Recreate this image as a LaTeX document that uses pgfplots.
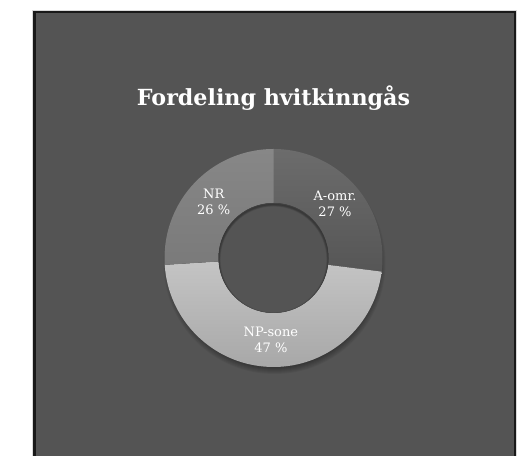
\documentclass[border=0pt]{standalone}
\usepackage{pgfplots}
\pgfplotsset{compat=1.18}
\usepackage{pgfplotstable}
\usepackage{fontspec}
\setmainfont{DejaVu Serif}

\definecolor{panel}{HTML}{545454}
\definecolor{aTop}{HTML}{6C6C6C}
\definecolor{aBot}{HTML}{565656}
\definecolor{bTop}{HTML}{C4C4C4}
\definecolor{bBot}{HTML}{A6A6A6}
\definecolor{cTop}{HTML}{878787}
\definecolor{cBot}{HTML}{7A7A7A}

% share of each slice, in per cent, clockwise from the top
\pgfplotstableread{
label   value
A-omr.  27
NP-sone 47
NR      26
}\shares

\pgfplotstablegetelem{0}{value}\of\shares \let\vA\pgfplotsretval
\pgfplotstablegetelem{1}{value}\of\shares \let\vB\pgfplotsretval
\pgfplotstablegetelem{2}{value}\of\shares \let\vC\pgfplotsretval
\pgfmathsetmacro\aA{90}
\pgfmathsetmacro\aB{\aA-3.6*\vA}
\pgfmathsetmacro\aC{\aB-3.6*\vB}
\pgfmathsetmacro\aD{\aC-3.6*\vC}
\pgfmathsetmacro\mA{(\aA+\aB)/2}
\pgfmathsetmacro\mB{(\aB+\aC)/2}
\pgfmathsetmacro\mC{(\aC+\aD)/2}

\def\Rout{109pt}
\def\Rin{55pt}

\begin{document}
\begin{tikzpicture}
\begin{axis}[
    x=1pt, y=1pt,
    xmin=0, xmax=525, ymin=0, ymax=456,
    scale only axis, hide axis, clip=false,
  ]
  % page and panel
  \fill[white] (axis cs:0,0) rectangle (axis cs:525,456);
  \fill[panel] (axis cs:34,0) rectangle (axis cs:515,444);
  \draw[black!90, line width=2.6pt] (axis cs:34.3,0) -- (axis cs:34.3,444) -- (axis cs:514.8,444) -- (axis cs:514.8,0);
  \draw[black!15, line width=0.6pt] (axis cs:32.5,0) -- (axis cs:32.5,445.5) -- (axis cs:516.5,445.5) -- (axis cs:516.5,0);

  \node[text=white, font=\bfseries\fontsize{22.2}{26}\selectfont, anchor=base]
    at (axis cs:273.5,350) {Fordeling hvitkinngås};

  % soft shadow under the ring
  \pgfplotsinvokeforeach{0,...,7}{
    \fill[black, opacity=0.05] (axis cs:274.5,193) circle[radius=104pt+#1pt];
  }

  \begin{scope}[shift={(axis cs:273.5,198)}]
    \shade[top color=aTop, bottom color=aBot]
      (\aA:\Rout) arc[start angle=\aA, end angle=\aB, radius=\Rout]
      -- (\aB:\Rin) arc[start angle=\aB, end angle=\aA, radius=\Rin] -- cycle;
    \shade[top color=bTop, bottom color=bBot]
      (\aB:\Rout) arc[start angle=\aB, end angle=\aC, radius=\Rout]
      -- (\aC:\Rin) arc[start angle=\aC, end angle=\aB, radius=\Rin] -- cycle;
    \shade[top color=cTop, bottom color=cBot]
      (\aC:\Rout) arc[start angle=\aC, end angle=\aD, radius=\Rout]
      -- (\aD:\Rin) arc[start angle=\aD, end angle=\aC, radius=\Rin] -- cycle;
    % the hole, with a faint inner shadow
    \fill[panel] (0,0) circle[radius=\Rin];
    \begin{scope}
      \clip (0,0) circle[radius=\Rin];
      \pgfplotsinvokeforeach{0,...,4}{
        \draw[black, opacity=0.07, line width=1pt+0.8*#1pt] (0,-1.5pt) circle[radius=\Rin];
      }
    \end{scope}
    \begin{scope}[text=white, font=\fontsize{13}{16}\selectfont, align=center]
      \node at (\mA:82pt) {A-omr.\\\vA\ \%};
      \node at (\mB:82pt) {NP-sone\\\vB\ \%};
      \node at (\mC:82pt) {NR\\\vC\ \%};
    \end{scope}
  \end{scope}
\end{axis}
\end{tikzpicture}
\end{document}
